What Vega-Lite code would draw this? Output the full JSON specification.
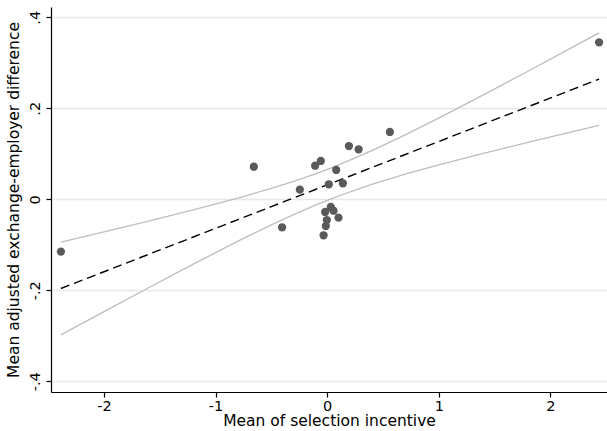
{
  "$schema": "https://vega.github.io/schema/vega-lite/v6.json",
  "width": 556,
  "height": 385,
  "autosize": {"type": "none"},
  "padding": {"left": 51, "top": 7, "right": 0, "bottom": 39},
  "background": "white",
  "config": {
    "view": {"stroke": null},
    "font": "DejaVu Sans",
    "axis": {
      "labelFont": "DejaVu Sans",
      "titleFont": "DejaVu Sans",
      "labelFontSize": 14.5,
      "titleFontSize": 15.5,
      "titleFontWeight": "normal",
      "labelColor": "#000000",
      "titleColor": "#000000",
      "domainColor": "#000000",
      "tickColor": "#000000",
      "tickSize": 5,
      "domainWidth": 1.2,
      "tickWidth": 1.2
    }
  },
  "datasets": {
    "obs": [
      {"x": -2.386, "y": -0.115},
      {"x": 2.437, "y": 0.345},
      {"x": -0.657, "y": 0.0716},
      {"x": -0.404, "y": -0.0615},
      {"x": -0.245, "y": 0.0211},
      {"x": -0.108, "y": 0.0738},
      {"x": -0.057, "y": 0.0842},
      {"x": 0.195, "y": 0.1171},
      {"x": 0.282, "y": 0.1099},
      {"x": 0.562, "y": 0.1479},
      {"x": 0.081, "y": 0.0644},
      {"x": 0.015, "y": 0.033},
      {"x": 0.141, "y": 0.0352},
      {"x": 0.033, "y": -0.0169},
      {"x": -0.018, "y": -0.0279},
      {"x": 0.057, "y": -0.0251},
      {"x": 0.102, "y": -0.0404},
      {"x": -0.003, "y": -0.0455},
      {"x": -0.012, "y": -0.0587},
      {"x": -0.032, "y": -0.0791}
    ],
    "fit": [
      {"x": -2.386, "fit": -0.196, "hi": -0.094, "lo": -0.298},
      {"x": -2.0, "fit": -0.1592, "hi": -0.0716, "lo": -0.2469},
      {"x": -1.6, "fit": -0.121, "hi": -0.0478, "lo": -0.1943},
      {"x": -1.2, "fit": -0.0829, "hi": -0.0233, "lo": -0.1425},
      {"x": -0.8, "fit": -0.0447, "hi": 0.0027, "lo": -0.0921},
      {"x": -0.5, "fit": -0.0161, "hi": 0.0239, "lo": -0.0561},
      {"x": -0.3, "fit": 0.003, "hi": 0.0394, "lo": -0.0335},
      {"x": -0.1, "fit": 0.0221, "hi": 0.0565, "lo": -0.0123},
      {"x": 0.03, "fit": 0.0345, "hi": 0.0685, "lo": 0.0005},
      {"x": 0.2, "fit": 0.0507, "hi": 0.0854, "lo": 0.016},
      {"x": 0.4, "fit": 0.0698, "hi": 0.1068, "lo": 0.0327},
      {"x": 0.7, "fit": 0.0984, "hi": 0.1416, "lo": 0.0552},
      {"x": 1.0, "fit": 0.127, "hi": 0.1784, "lo": 0.0756},
      {"x": 1.4, "fit": 0.1652, "hi": 0.2294, "lo": 0.1009},
      {"x": 1.8, "fit": 0.2033, "hi": 0.2815, "lo": 0.1251},
      {"x": 2.2, "fit": 0.2415, "hi": 0.3343, "lo": 0.1487},
      {"x": 2.437, "fit": 0.2641, "hi": 0.3658, "lo": 0.1625}
    ]
  },
  "layer": [
    {
      "data": {"name": "fit"},
      "mark": {"type": "line", "color": "#bdbdbd", "strokeWidth": 1.3},
      "encoding": {
        "x": {
          "field": "x", "type": "quantitative",
          "scale": {"domain": [-2.475, 2.508], "nice": false, "zero": false},
          "axis": {
            "values": [-2, -1, 0, 1, 2],
            "labelExpr": "toString(datum.value)",
            "title": "Mean of selection incentive",
            "grid": false,
            "labelPadding": 2,
            "titlePadding": 1
          }
        },
        "y": {
          "field": "hi", "type": "quantitative",
          "scale": {"domain": [-0.4235, 0.4226], "nice": false, "zero": false},
          "axis": {
            "values": [-0.4, -0.2, 0, 0.2, 0.4],
            "labelExpr": "datum.value == 0 ? '0' : replace(toString(datum.value), '0.', '.')",
            "labelAngle": -90,
            "labelPadding": 4,
            "title": "Mean adjusted exchange-employer difference",
            "titlePadding": 6,
            "grid": true,
            "gridColor": "#e8e8e8",
            "gridWidth": 1.5
          }
        }
      }
    },
    {
      "data": {"name": "fit"},
      "mark": {"type": "line", "color": "#bdbdbd", "strokeWidth": 1.3},
      "encoding": {
        "x": {"field": "x", "type": "quantitative"},
        "y": {"field": "lo", "type": "quantitative"}
      }
    },
    {
      "data": {"name": "fit"},
      "mark": {"type": "line", "color": "#000000", "strokeWidth": 1.4, "strokeDash": [9, 5]},
      "encoding": {
        "x": {"field": "x", "type": "quantitative"},
        "y": {"field": "fit", "type": "quantitative"}
      }
    },
    {
      "data": {"name": "obs"},
      "mark": {"type": "point", "filled": true, "color": "#5a5a5a", "opacity": 1, "size": 68},
      "encoding": {
        "x": {"field": "x", "type": "quantitative"},
        "y": {"field": "y", "type": "quantitative"}
      }
    }
  ]
}
